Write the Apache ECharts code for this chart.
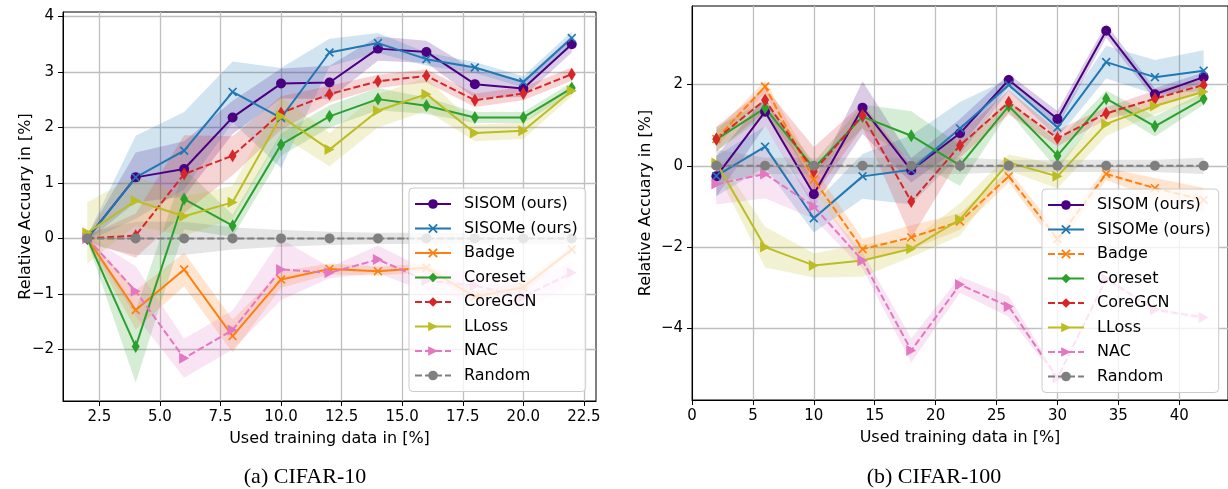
<!DOCTYPE html>
<html><head><meta charset="utf-8">
<script src="https://cdn.jsdelivr.net/npm/echarts@6/dist/echarts.min.js"></script>
<style>html,body{margin:0;padding:0;background:#fff}#c{width:1228px;height:489px}</style>
</head><body><div id="c"></div>
<script>
// ---------- shared ----------
const names = ['SISOM (ours)','SISOMe (ours)','Badge','Coreset','CoreGCN','LLoss','NAC','Random'];
const colors = ['#4b0082','#1f77b4','#ff7f0e','#2ca02c','#d62728','#bcbd22','#e377c2','#7f7f7f'];

// ---------- (a) CIFAR-10 ----------
const xA = [2,4,6,8,10,12,14,16,18,20,22];
const a_sisom      = [0, 1.10, 1.25, 2.18, 2.79, 2.81, 3.42, 3.36, 2.78, 2.70, 3.50];
const a_sisom_sd   = [0.05, 0.45, 0.5, 0.3, 0.27, 0.3, 0.22, 0.2, 0.25, 0.15, 0.15];
const a_sisome     = [0, 1.10, 1.58, 2.64, 2.17, 3.35, 3.52, 3.23, 3.08, 2.82, 3.61];
const a_sisome_sd  = [0.05, 0.75, 0.7, 0.55, 0.9, 0.25, 0.18, 0.12, 0.1, 0.1, 0.12];
const a_badge      = [0, -1.29, -0.56, -1.76, -0.74, -0.55, -0.59, -0.53, -1.05, -0.88, -0.20];
const a_badge_sd   = [0.05, 0.35, 0.3, 0.3, 0.15, 0.1, 0.08, 0.08, 0.1, 0.1, 0.05];
const a_coreset    = [0, -1.95, 0.71, 0.23, 1.69, 2.20, 2.51, 2.39, 2.18, 2.18, 2.71];
const a_coreset_sd = [0.05, 0.65, 0.55, 0.2, 0.2, 0.2, 0.2, 0.15, 0.1, 0.1, 0.1];
const a_coregcn    = [0, 0.05, 1.16, 1.49, 2.26, 2.60, 2.83, 2.93, 2.49, 2.61, 2.96];
const a_coregcn_sd = [0.05, 0.4, 0.7, 0.35, 0.3, 0.15, 0.12, 0.12, 0.12, 0.12, 0.12];
const a_lloss      = [0.1, 0.68, 0.40, 0.65, 2.20, 1.60, 2.30, 2.60, 1.90, 1.94, 2.66];
const a_lloss_sd   = [0.55, 0.45, 0.35, 0.3, 0.35, 0.3, 0.3, 0.3, 0.15, 0.15, 0.1];
const a_nac        = [0, -0.95, -2.16, -1.65, -0.56, -0.62, -0.38, -0.76, -0.85, -1.05, -0.62];
const a_nac_sd     = [0.05, 0.45, 0.35, 0.35, 0.55, 0.1, 0.25, 0.2, 0.25, 0.25, 0.2];
const a_random     = [0, 0, 0, 0, 0, 0, 0, 0, 0, 0, 0];
const a_random_sd  = [0.1, 0.3, 0.3, 0.2, 0.15, 0.12, 0.1, 0.1, 0.1, 0.1, 0.1];
const a_xticks = [2.5, 5, 7.5, 10, 12.5, 15, 17.5, 20, 22.5];
const a_yticks = [-2, -1, 0, 1, 2, 3, 4];

// ---------- (b) CIFAR-100 ----------
const xB = [2,6,10,14,18,22,26,30,34,38,42];
const b_sisom      = [-0.26, 1.33, -0.70, 1.43, -0.11, 0.80, 2.11, 1.15, 3.32, 1.76, 2.18];
const b_sisom_sd   = [0.5, 0.35, 0.3, 0.65, 0.3, 0.35, 0.15, 0.2, 0.17, 0.15, 0.12];
const b_sisome     = [-0.25, 0.47, -1.29, -0.26, -0.10, 0.92, 1.99, 0.94, 2.55, 2.18, 2.34];
const b_sisome_sd  = [0.5, 0.5, 0.35, 0.55, 0.85, 0.65, 0.15, 0.25, 0.4, 0.42, 0.5];
const b_badge      = [0.66, 1.95, -0.34, -2.05, -1.76, -1.37, -0.26, -1.80, -0.20, -0.55, -0.84];
const b_badge_sd   = [0.2, 0.15, 0.3, 0.25, 0.3, 0.2, 0.15, 0.2, 0.15, 0.25, 0.3];
const b_coreset    = [0.65, 1.42, -0.06, 1.21, 0.74, 0.01, 1.47, 0.25, 1.65, 0.97, 1.65];
const b_coreset_sd = [0.3, 0.2, 0.15, 0.3, 0.6, 0.5, 0.15, 0.35, 0.2, 0.25, 0.15];
const b_coregcn    = [0.66, 1.62, -0.14, 1.24, -0.88, 0.50, 1.56, 0.68, 1.29, 1.65, 1.99];
const b_coregcn_sd = [0.3, 0.3, 0.6, 0.3, 0.9, 0.3, 0.3, 0.2, 0.15, 0.2, 0.15];
const b_lloss      = [0.07, -2.00, -2.45, -2.33, -2.04, -1.32, 0.08, -0.26, 1.03, 1.47, 1.82];
const b_lloss_sd   = [0.2, 0.5, 0.3, 0.4, 0.2, 0.4, 0.2, 0.3, 0.3, 0.2, 0.15];
const b_nac        = [-0.45, -0.20, -1.00, -2.33, -4.54, -2.92, -3.46, -5.22, -2.78, -3.54, -3.73];
const b_nac_sd     = [0.5, 0.6, 0.3, 0.2, 0.3, 0.2, 0.25, 0.05, 0.05, 0.05, 0.05];
const b_random     = [0, 0, 0, 0, 0, 0, 0, 0, 0, 0, 0];
const b_random_sd  = [0.4, 0.2, 0.2, 0.2, 0.2, 0.2, 0.15, 0.15, 0.15, 0.15, 0.2];
const b_xticks = [0, 5, 10, 15, 20, 25, 30, 35, 40];
const b_yticks = [-4, -2, 0, 2];

// ---------- styling ----------
const X_PATH = 'path://M0,1.3L1.3,0L5,3.7L8.7,0L10,1.3L6.3,5L10,8.7L8.7,10L5,6.3L1.3,10L0,8.7L3.7,5Z';
const TRI_R = 'path://M0,0L10,5L0,10Z';
const DASH = [7, 3];
const markers = [
  {symbol:'circle', size:10},
  {symbol:X_PATH, size:9},
  {symbol:X_PATH, size:9},
  {symbol:'diamond', size:[8,13]},
  {symbol:'diamond', size:[8,13]},
  {symbol:TRI_R, size:[10,11]},
  {symbol:TRI_R, size:[10,11]},
  {symbol:'circle', size:10}
];
const dashedA = [false,false,false,false,true,false,true,true];
const dashedB = [false,false,true,false,true,false,true,true];

const setA = [[a_sisom,a_sisom_sd],[a_sisome,a_sisome_sd],[a_badge,a_badge_sd],[a_coreset,a_coreset_sd],[a_coregcn,a_coregcn_sd],[a_lloss,a_lloss_sd],[a_nac,a_nac_sd],[a_random,a_random_sd]];
const setB = [[b_sisom,b_sisom_sd],[b_sisome,b_sisome_sd],[b_badge,b_badge_sd],[b_coreset,b_coreset_sd],[b_coregcn,b_coregcn_sd],[b_lloss,b_lloss_sd],[b_nac,b_nac_sd],[b_random,b_random_sd]];

const FONT = 'DejaVu Sans';
const minus = v => String(v).replace('-', '\u2212');

function buildSeries(gi, xs, set, dashed) {
  const bands = [], lines = [];
  set.forEach(([vals, sds], k) => {
    const pts = xs.map((x,i)=>[x, vals[i]-sds[i], vals[i]+sds[i]]);
    bands.push({
      type:'custom', name:'_band'+gi+'_'+k, xAxisIndex:gi, yAxisIndex:gi,
      data: pts, encode:{x:0, y:[1,2]}, silent:true, clip:true, z:1,
      renderItem: function(params, api) {
        if (params.dataIndex !== 0) return null;
        const upper = pts.map(p => api.coord([p[0], p[2]]));
        const lower = pts.map(p => api.coord([p[0], p[1]])).reverse();
        return {
          type:'polygon',
          shape:{points: upper.concat(lower)},
          style:{fill: colors[k], opacity:0.2, stroke:'none'}
        };
      }
    });
    lines.push({
      type:'line', name:names[k], xAxisIndex:gi, yAxisIndex:gi,
      data: xs.map((x,i)=>[x, vals[i]]),
      symbol: markers[k].symbol, symbolSize: markers[k].size, showSymbol:true,
      itemStyle:{color:colors[k], borderWidth:0},
      lineStyle:{color:colors[k], width:2, type: dashed[k] ? DASH : 'solid'},
      z:3, silent:true
    });
  });
  return bands.concat(lines);
}

function xAxisCfg(gi, min, max, ticks, fmt) {
  return {
    type:'value', gridIndex:gi, min:min, max:max,
    name:'Used training data in [%]', nameLocation:'middle', nameGap:30, nameMoveOverlap:false,
    nameTextStyle:{fontFamily:FONT, fontSize:16, color:'#000'},
    axisLine:{show:true, onZero:false, lineStyle:{color:'#000', width:1}},
    axisTick:{show:true, customValues:ticks, length:5, lineStyle:{color:'#000', width:1}},
    axisLabel:{customValues:ticks, formatter:fmt, fontFamily:FONT, fontSize:15, color:'#000', margin:9},
    splitLine:{show:true, lineStyle:{color:'#bfbfbf', width:1.3}}
  };
}
function yAxisCfg(gi, min, max, ticks, gap) {
  return {
    type:'value', gridIndex:gi, min:min, max:max,
    name:'Relative Accuary in [%]', nameLocation:'middle', nameGap:gap, nameMoveOverlap:false,
    nameTextStyle:{fontFamily:FONT, fontSize:16, color:'#000'},
    axisLine:{show:true, onZero:false, lineStyle:{color:'#000', width:1}},
    axisTick:{show:true, customValues:ticks, length:5, lineStyle:{color:'#000', width:1}},
    axisLabel:{customValues:ticks, formatter:v=>minus(Math.round(v)), fontFamily:FONT, fontSize:15, color:'#000', margin:9},
    splitLine:{show:true, lineStyle:{color:'#bfbfbf', width:1.3}}
  };
}
function legendCfg(left, top, badgeDashed) {
  return {
    show:true, orient:'vertical', left:left, top:top, selectedMode:false,
    backgroundColor:'rgba(255,255,255,0.8)', borderColor:'#cccccc', borderWidth:1, borderRadius:4,
    padding:[7,8,7,5], itemGap:6.5, itemWidth:36, itemHeight:12,
    textStyle:{fontFamily:FONT, fontSize:16, color:'#000', lineHeight:18, padding:[0,0,0,8]},
    data: names.map((n,k)=> (k===2 ? {name:n, lineStyle:{type: badgeDashed ? DASH : 'solid'}} : {name:n}))
  };
}

const option = {
  backgroundColor:'#ffffff',
  animation:false,
  grid:[
    {left:63, top:12, width:533, height:389, show:true, borderColor:'#000', borderWidth:1, backgroundColor:'transparent'},
    {left:692, top:6, width:539, height:394, show:true, borderColor:'#000', borderWidth:1, backgroundColor:'transparent'}
  ],
  xAxis:[
    xAxisCfg(0, 1, 23, a_xticks, v=>v.toFixed(1)),
    xAxisCfg(1, 0, 44, b_xticks, v=>String(Math.round(v)))
  ],
  yAxis:[
    yAxisCfg(0, -2.93, 4.08, a_yticks, 29),
    yAxisCfg(1, -5.76, 3.93, b_yticks, 38)
  ],
  legend:[ legendCfg(409, 188, false), legendCfg(1042, 189, true) ],
  series: buildSeries(0, xA, setA, dashedA).concat(buildSeries(1, xB, setB, dashedB)),
  graphic:[
    {type:'text', x:305, y:477, style:{text:'(a) CIFAR-10', font:'22px "Liberation Serif"', fill:'#000', align:'center', verticalAlign:'middle'}},
    {type:'text', x:934, y:477, style:{text:'(b) CIFAR-100', font:'22px "Liberation Serif"', fill:'#000', align:'center', verticalAlign:'middle'}}
  ]
};
const chart = echarts.init(document.getElementById('c'), null, {renderer:'canvas'});
chart.setOption(option);
</script></body></html>
